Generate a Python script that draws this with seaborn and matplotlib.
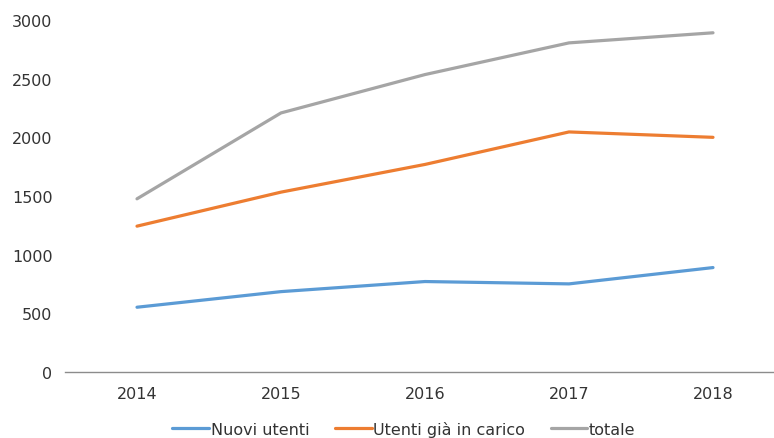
import matplotlib
matplotlib.use("Agg")
import matplotlib.pyplot as plt
import seaborn as sns
import pandas as pd

# Annual user counts
years = [2014, 2015, 2016, 2017, 2018]
nuovi_utenti = [552, 685, 771, 751, 890]
utenti_in_carico = [1243, 1533, 1769, 2046, 2000]
totale = [1476, 2208, 2535, 2805, 2891]

series_names = ["Nuovi utenti", "Utenti già in carico", "totale"]
colors = ["#5B9BD5", "#ED7D31", "#A5A5A5"]
y_ticks = [0, 500, 1000, 1500, 2000, 2500, 3000]

df = pd.concat([
    pd.DataFrame({"anno": years, "valore": nuovi_utenti, "serie": series_names[0]}),
    pd.DataFrame({"anno": years, "valore": utenti_in_carico, "serie": series_names[1]}),
    pd.DataFrame({"anno": years, "valore": totale, "serie": series_names[2]}),
])

sns.set_theme(style="white")
plt.rcParams["font.family"] = ["DejaVu Sans"]

text_color = "#333333"

fig = plt.figure(figsize=(7.74, 4.39), dpi=100)
ax = fig.add_axes([65 / 774, 66 / 439, 720 / 774, 352 / 439])

sns.lineplot(data=df, x="anno", y="valore", hue="serie", hue_order=series_names,
             palette=colors, linewidth=2.3, ax=ax, legend=False)

ax.set_xlim(years[0] - 0.5, years[-1] + 0.5)
ax.set_ylim(0, 3000)
ax.set_xticks(years)
ax.set_xticklabels([str(y) for y in years])
ax.set_yticks(y_ticks)
ax.set_xlabel("")
ax.set_ylabel("")

for side in ["top", "right", "left"]:
    ax.spines[side].set_visible(False)
ax.spines["bottom"].set_color("#8C8C8C")
ax.spines["bottom"].set_linewidth(1.0)

ax.tick_params(axis="y", length=0, pad=9, labelsize=11.5, labelcolor=text_color)
ax.tick_params(axis="x", length=0, pad=10, labelsize=11.5, labelcolor=text_color)

handles = [plt.Line2D([], [], color=c, linewidth=2.3) for c in colors]
leg = fig.legend(handles, series_names, loc="center", bbox_to_anchor=(404 / 774, 1 - 430 / 439),
                 ncol=3, frameon=False, fontsize=11.5, handlelength=2.3,
                 handletextpad=0.1, columnspacing=1.6, borderaxespad=0)
for t in leg.get_texts():
    t.set_color(text_color)

fig.savefig("out.png", dpi=100)
